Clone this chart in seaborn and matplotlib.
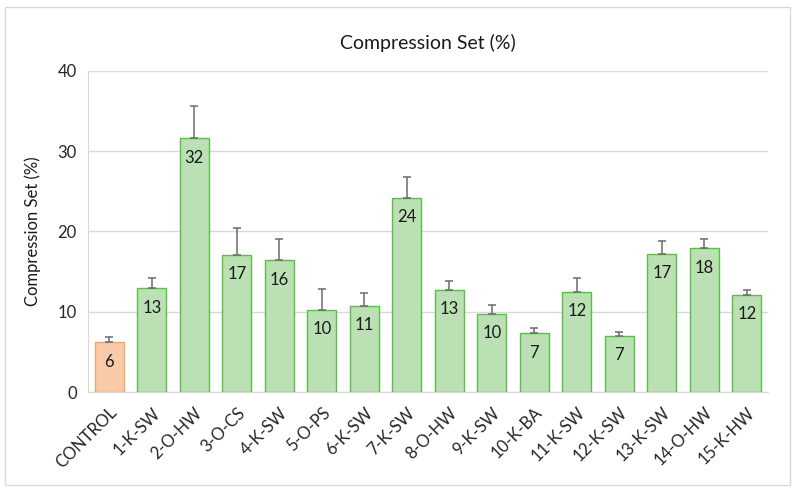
import matplotlib
matplotlib.use("Agg")
import matplotlib.pyplot as plt
import seaborn as sns
import pandas as pd
import numpy as np

samples = ['CONTROL', '1-K-SW', '2-O-HW', '3-O-CS', '4-K-SW', '5-O-PS', '6-K-SW', '7-K-SW',
           '8-O-HW', '9-K-SW', '10-K-BA', '11-K-SW', '12-K-SW', '13-K-SW', '14-O-HW', '15-K-HW']
compression_set = [6.2, 12.9, 31.6, 17.1, 16.4, 10.2, 10.7, 24.2,
                   12.7, 9.7, 7.3, 12.5, 7.0, 17.2, 17.9, 12.1]
error = [0.6, 1.3, 4.1, 3.3, 2.7, 2.6, 1.6, 2.6,
         1.1, 1.1, 0.7, 1.7, 0.5, 1.6, 1.2, 0.6]
group = ['control'] + ['sample'] * 15

df = pd.DataFrame({'Sample': samples, 'Compression Set (%)': compression_set,
                   'err': error, 'group': group})

sns.set_style("white")
plt.rcParams['font.family'] = ['Lato', 'DejaVu Sans']

fig = plt.figure(figsize=(7.96, 4.9), dpi=100)
ax = fig.add_axes([88 / 796, 98 / 490, 680 / 796, 321 / 490])

palette = {'control': '#f9caa7', 'sample': '#bbe0b3'}
sns.barplot(data=df, x='Sample', y='Compression Set (%)', hue='group', palette=palette,
            width=0.68, dodge=False, legend=False, ax=ax, saturation=1)

edges = {'control': '#f4a46a', 'sample': '#5abf48'}
for patch, g in zip(ax.patches, df['group']):
    patch.set_edgecolor(edges[g])
    patch.set_linewidth(1.0)

x = np.arange(len(samples))
ax.errorbar(x, df['Compression Set (%)'], yerr=[np.zeros(len(x)), df['err']],
            fmt='none', ecolor='#6b6b6b', elinewidth=1.1, capsize=3, capthick=1.1)

# value labels inside bar tops
for xi, v in zip(x, df['Compression Set (%)']):
    ax.text(xi, v - 2.4, f"{round(v):.0f}", ha='center', va='center', fontsize=12, color='#1a1a1a')

ax.set_ylim(0, 40)
ax.set_xlim(-0.5, len(samples) - 0.5)
ax.set_yticks([0, 10, 20, 30, 40])
ax.yaxis.grid(True, color='#d9d9d9', linewidth=1)
ax.set_axisbelow(True)
for s in ['top', 'right']:
    ax.spines[s].set_visible(False)
ax.spines['left'].set_color('#d9d9d9')
ax.spines['bottom'].set_color('#d9d9d9')
ax.tick_params(axis='y', labelsize=12, colors='#262626', length=0, pad=8)
ax.tick_params(axis='x', labelsize=12, colors='#262626', length=0, pad=9)
plt.setp(ax.get_xticklabels(), rotation=45, ha='right', rotation_mode='anchor')
ax.set_xlabel('')
ax.set_ylabel('Compression Set (%)', fontsize=12, color='#1a1a1a', labelpad=12)
ax.set_title('Compression Set (%)', fontsize=14, color='#1a1a1a', pad=16)

fig.patches.append(plt.Rectangle((5 / 796, 5 / 490), 785 / 796, 478 / 490, transform=fig.transFigure,
                                 fill=False, edgecolor='#d9d9d9', linewidth=1))

fig.savefig('out.png', dpi=100)
